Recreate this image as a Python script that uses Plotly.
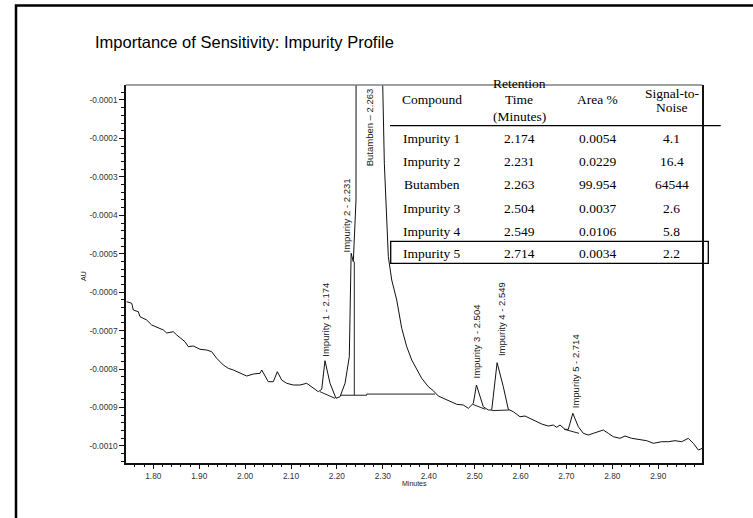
import plotly.graph_objects as go

# ---------------- data ----------------
time_min = [1.742, 1.753, 1.7564, 1.7673, 1.771, 1.7856, 1.7965, 1.8146, 1.8218, 1.8292,
            1.8436, 1.851, 1.8691, 1.8763, 1.8871, 1.9017, 1.9163, 1.9272, 1.9381, 1.9525,
            1.9634, 1.9743, 1.9889, 2.0035, 2.0179, 2.0325, 2.0362, 2.0434, 2.0505, 2.0614,
            2.0702, 2.0797, 2.0906, 2.105, 2.1196, 2.1342, 2.1451, 2.1595, 2.1669, 2.174,
            2.185, 2.198, 2.2068, 2.2177, 2.227, 2.231, 2.2357, 2.2416, 2.263, 2.2998,
            2.3033, 2.312, 2.3194, 2.3303, 2.3412, 2.3521, 2.363, 2.3739, 2.3847, 2.3991,
            2.41, 2.4209, 2.4318, 2.4464, 2.461, 2.4754, 2.4863, 2.4972, 2.504, 2.519,
            2.5299, 2.5373, 2.549, 2.5625, 2.5734, 2.5843, 2.5989, 2.6098, 2.6207, 2.6316,
            2.6462, 2.6606, 2.6715, 2.6789, 2.6861, 2.697, 2.7041, 2.714, 2.7259, 2.7368,
            2.7477, 2.7586, 2.7695, 2.7804, 2.7913, 2.8022, 2.8168, 2.8277, 2.8423, 2.8603,
            2.8749, 2.8893, 2.9076, 2.922, 2.9366, 2.9512, 2.9656, 2.9765, 2.9874, 2.9961]

signal_au = [-0.0006247, -0.0006289, -0.0006463, -0.0006507, -0.0006637, -0.0006723, -0.0006853,
             -0.0006939, -0.0006983, -0.0007061, -0.0007028, -0.0007113, -0.0007288, -0.0007418,
             -0.0007400, -0.0007485, -0.0007504, -0.0007548, -0.0007720, -0.0007894, -0.0007980,
             -0.0008024, -0.0008110, -0.0008180, -0.0008128, -0.0008110, -0.0008024, -0.0008198,
             -0.0008328, -0.0008328, -0.0008068, -0.0008284, -0.0008370, -0.0008414, -0.0008414,
             -0.0008370, -0.0008458, -0.0008588, -0.0008526, -0.0007782, -0.0008370, -0.0008760,
             -0.0008718, -0.0008370, -0.0007678, -0.0004988, -0.0005206, -0.0003601, 0.05,
             -0.0000620, -0.0002647, -0.0005076, -0.0005683, -0.0006203, -0.0006939, -0.0007418,
             -0.0007764, -0.0008024, -0.0008240, -0.0008458, -0.0008562, -0.0008700, -0.0008760,
             -0.0008849, -0.0008916, -0.0008934, -0.0009020, -0.0008890, -0.0008414, -0.0008981,
             -0.0009064, -0.0009064, -0.0007834, -0.0008458, -0.0009046, -0.0009109, -0.0009239,
             -0.0009221, -0.0009280, -0.0009343, -0.0009429, -0.0009481, -0.0009455, -0.0009515,
             -0.0009455, -0.0009567, -0.0009567, -0.0009150, -0.0009499, -0.0009671, -0.0009715,
             -0.0009671, -0.0009629, -0.0009585, -0.0009671, -0.0009759, -0.0009801, -0.0009741,
             -0.0009801, -0.0009845, -0.0009863, -0.0009931, -0.0009889, -0.0009889, -0.0009863,
             -0.0009889, -0.0009801, -0.0009931, -0.0010105, -0.0010061]

# integration baselines / drop line (minutes, AU)
baseline_x = [[2.1632, 2.1958],
              [2.2068, 2.2649, 2.2649, 2.4137],
              [2.2379, 2.2379],
              [2.4959, 2.5234],
              [2.5373, 2.5756],
              [2.6950, 2.7276]]
baseline_y = [[-0.0008588, -0.0008760],
              [-0.0008680, -0.0008680, -0.0008650, -0.0008650],
              [-0.0008680, -0.0005206],
              [-0.0008916, -0.0009046],
              [-0.0009081, -0.0009064],
              [-0.0009567, -0.0009671]]

# table
compounds = ["Impurity 1", "Impurity 2", "Butamben", "Impurity 3", "Impurity 4", "Impurity 5"]
ret_time = ["2.174", "2.231", "2.263", "2.504", "2.549", "2.714"]
area_pct = ["0.0054", "0.0229", "99.954", "0.0037", "0.0106", "0.0034"]
sig_noise = ["4.1", "16.4", "64544", "2.6", "5.8", "2.2"]
rt_values = [2.174, 2.231, 2.263, 2.504, 2.549, 2.714]

x_tickvals = [1.8, 1.9, 2.0, 2.1, 2.2, 2.3, 2.4, 2.5, 2.6, 2.7, 2.8, 2.9]
x_ticktext = ["1.80", "1.90", "2.00", "2.10", "2.20", "2.30", "2.40", "2.50", "2.60", "2.70", "2.80", "2.90"]
y_tickvals = [-0.0001, -0.0002, -0.0003, -0.0004, -0.0005, -0.0006, -0.0007, -0.0008, -0.0009, -0.0010]
y_ticktext = ["-0.0001", "-0.0002", "-0.0003", "-0.0004", "-0.0005", "-0.0006", "-0.0007",
              "-0.0008", "-0.0009", "-0.0010"]

# ---------------- layout helpers ----------------
W, H = 753, 518
L, R, T, B = 126, 702, 85, 463


def px(p):
    return (p - L) / (R - L)


def py(p):
    return (B - p) / (B - T)


SANS = "Liberation Sans, Arial, sans-serif"
SERIF = "Liberation Serif, Times New Roman, serif"

fig = go.Figure()
fig.add_trace(go.Scatter(x=time_min, y=signal_au, mode="lines",
                         line=dict(color="#111111", width=1), hoverinfo="skip"))
for bx, by in zip(baseline_x, baseline_y):
    fig.add_trace(go.Scatter(x=bx, y=by, mode="lines",
                             line=dict(color="#222222", width=1), hoverinfo="skip"))

annotations = []
# title
annotations.append(dict(text="Importance of Sensitivity: Impurity Profile", xref="paper", yref="paper",
                        x=px(93), y=py(42), xanchor="left", yanchor="middle", showarrow=False,
                        font=dict(family=SANS, size=16.5, color="#000")))
# axis titles
annotations.append(dict(text="AU", xref="paper", yref="paper", x=px(83), y=py(276),
                        xanchor="center", yanchor="middle",
                        textangle=-90, showarrow=False, font=dict(family=SANS, size=7, color="#222")))
annotations.append(dict(text="Minutes", xref="paper", yref="paper", x=px(414), y=py(483),
                        xanchor="center", yanchor="middle",
                        showarrow=False, font=dict(family=SANS, size=7, color="#222")))

# peak labels
label_shift = [(0.5, 2.5), (-4.5, -1.5), (3.5, 0), (0, 5), (3.7, 4.4), (3.4, 3.3)]
for name, rt_txt, rt, (dx, dy) in zip(compounds, ret_time, rt_values, label_shift):
    sep = " \u2013 " if name == "Butamben" else " - "
    txt = name + sep + rt_txt
    if name == "Butamben":
        annotations.append(dict(text=txt, x=rt, xref="x", y=py(86), yref="paper", yanchor="top",
                                xanchor="center", xshift=dx, textangle=-90, showarrow=False,
                                font=dict(family=SANS, size=9.5, color="#222")))
    else:
        i = min(range(len(time_min)), key=lambda k: abs(time_min[k] - rt))
        annotations.append(dict(text=txt, x=rt, y=signal_au[i], xref="x", yref="y",
                                xanchor="center", yanchor="bottom", xshift=dx, yshift=dy,
                                textangle=-90, showarrow=False,
                                font=dict(family=SANS, size=9.5, color="#222")))

# table
col_x = [431.7, 519, 597.5, 671.5]
tfont = dict(family=SERIF, size=13.5, color="#000")
hdr = [(431.7, 100, "Compound"), (519, 83.5, "Retention"), (519, 100, "Time"),
       (519, 116.5, "(Minutes)"), (597.5, 100, "Area %"), (671.5, 93, "Signal-to-"),
       (671.5, 107, "Noise")]
for hx, hy, ht in hdr:
    annotations.append(dict(text=ht, xref="paper", yref="paper", x=px(hx), y=py(hy),
                            xanchor="center", yanchor="middle", showarrow=False, font=tfont))
row_y = [138.3, 161.3, 184.7, 208, 231, 253.3]
for ry, c0, c1, c2, c3 in zip(row_y, compounds, ret_time, area_pct, sig_noise):
    for cx, ct in zip(col_x, [c0, c1, c2, c3]):
        annotations.append(dict(text=ct, xref="paper", yref="paper", x=px(cx), y=py(ry),
                                xanchor="center", yanchor="middle", showarrow=False, font=tfont))

shapes = [
    # outer slide frame
    dict(type="rect", xref="paper", yref="paper", x0=px(16), x1=px(770), y0=py(540), y1=py(5.5),
         line=dict(color="#000", width=2.5)),
    # top border of plot (gray)
    dict(type="line", xref="paper", yref="paper", x0=0, x1=1, y0=1, y1=1,
         line=dict(color="#808080", width=1.5)),
    # table header rule
    dict(type="line", xref="paper", yref="paper", x0=px(390), x1=px(720.7), y0=py(125.7), y1=py(125.7),
         line=dict(color="#000", width=1.3)),
    # box around impurity 5
    dict(type="rect", xref="paper", yref="paper", x0=px(390.7), x1=px(708.3), y0=py(263.3), y1=py(241.3),
         line=dict(color="#000", width=1.3)),
]

fig.update_layout(
    width=W, height=H, margin=dict(l=L, r=W - R, t=T, b=H - B, pad=0),
    paper_bgcolor="white", plot_bgcolor="white", showlegend=False,
    annotations=annotations, shapes=shapes,
    xaxis=dict(range=[1.7405, 2.9954], tickmode="array", tickvals=x_tickvals, ticktext=x_ticktext,
               showgrid=False, zeroline=False, showline=True, linecolor="#111", linewidth=1.5,
               ticks="outside", ticklen=4, tickwidth=1, tickcolor="#111",
               tickfont=dict(family=SANS, size=8.3, color="#333"),
               minor=dict(tickmode="linear", tick0=0, dtick=0.02, ticks="outside", ticklen=2.5,
                          tickwidth=1, tickcolor="#111", showgrid=False)),
    yaxis=dict(range=[-0.0010443, -0.0000610], tickmode="array", tickvals=y_tickvals, ticktext=y_ticktext,
               showgrid=False, zeroline=False, showline=True, mirror=True, linecolor="#111", linewidth=1.5,
               ticks="outside", ticklen=5, tickwidth=1, tickcolor="#111",
               tickfont=dict(family=SANS, size=8.3, color="#333"),
               minor=dict(tickmode="linear", tick0=0, dtick=0.00002, ticks="outside", ticklen=3,
                          tickwidth=1, tickcolor="#111", showgrid=False)),
)

fig.write_html("out.html")
